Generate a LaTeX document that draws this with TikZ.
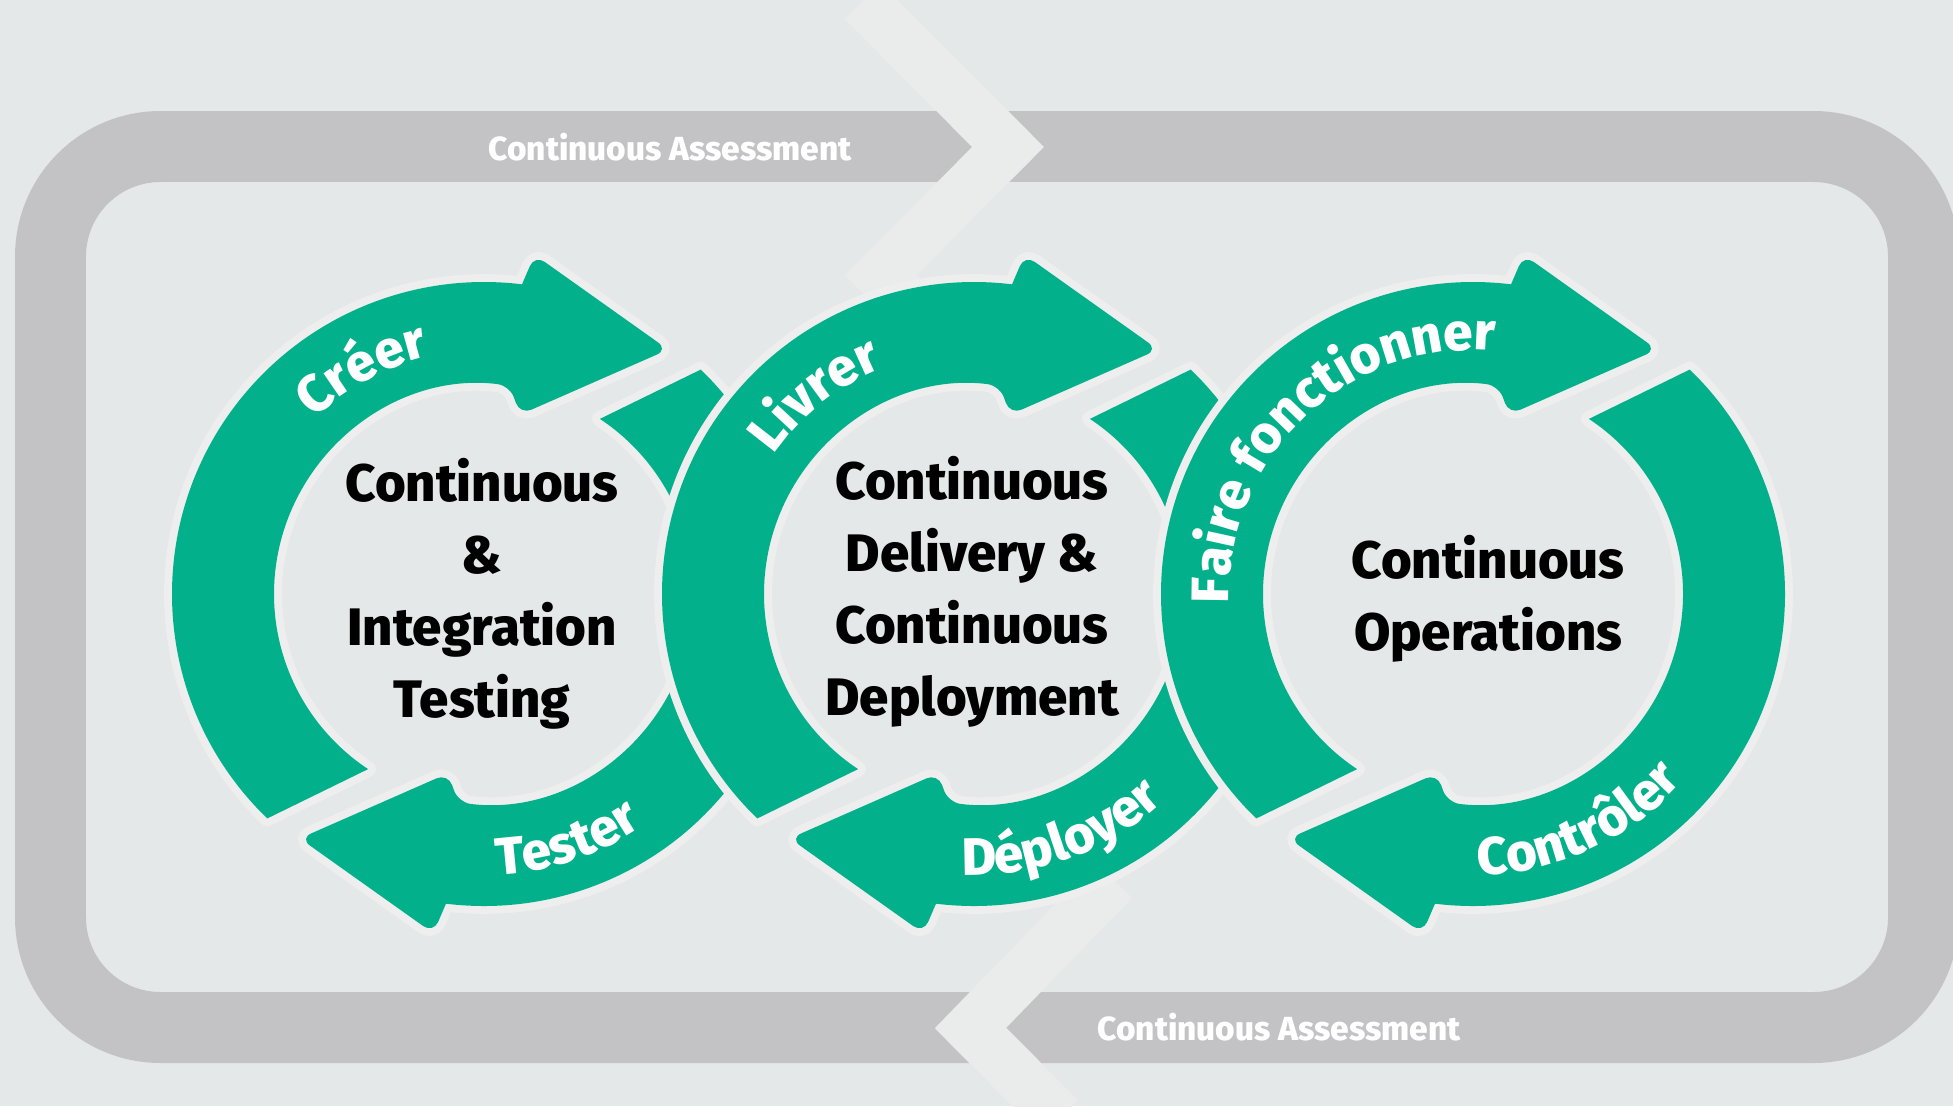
\documentclass[tikz,border=0pt]{standalone}
\usepackage{fontspec}
\setmainfont{Fira Sans}[BoldFont={Fira Sans ExtraBold}]
\usetikzlibrary{decorations.text}

\definecolor{backdrop}{RGB}{229,232,232}
\definecolor{loopgray}{RGB}{195,195,197}
\definecolor{zigzag}{RGB}{234,236,235}
\definecolor{halo}{RGB}{237,238,237}
\definecolor{cyclegreen}{RGB}{2,177,139}

\newcommand{\arcfont}{\bfseries\fontsize{30}{30}\selectfont}
\newcommand{\cyclearrow}[3]{%
  \path[arrowbody, shift={(#1,#2)}, rotate=#3]
    (134:312) arc[start angle=134, end angle=277, radius=312]
    [rounded corners=7pt] -- (278.5:343) -- (307:306) -- (281.4:183) -- (277:210)
    [sharp corners] arc[start angle=277, end angle=123.5, radius=210] -- cycle;}

\begin{document}
\begin{tikzpicture}[x=0.02cm, y=-0.02cm,
    loopband/.style={draw=loopgray, line width=40.4pt, rounded corners=62.6pt},
    zigzagline/.style={draw=zigzag, line width=29pt},
    hole/.style={fill=backdrop},
    arrowbody/.style={fill=cyclegreen, preaction={draw=halo, line width=9pt, line join=round}},
    bandlabel/.style={text=white, inner sep=0pt, font=\bfseries\fontsize{19}{19}\selectfont},
    hubtext/.style={align=center, inner sep=0pt, font=\bfseries\fontsize{30}{41}\selectfont},
    arctext/.style={decorate, decoration={text along path, text align=center, text color=white, text={#1}}}]
    \useasboundingbox (0,0) rectangle (1953,1106);
    \clip (0,0) rectangle (1953,1106);
    \fill[backdrop] (0,0) rectangle (1953,1106);

    \draw[loopband] (50.5,146.5) rectangle (1923.5,1027.5);
    \node[bandlabel] (assessTop) at (670,147) {Continuous Assessment};
    \node[bandlabel] (assessBottom) at (1279,1027) {Continuous Assessment};

    \draw[zigzagline] (863,1) -- (1008,147) -- (881,275) -- (960,354);
    \draw[zigzagline] (1114,880) -- (970.5,1028) -- (1060,1118);

    \fill[hole] (484,594) circle[radius=300];
    \cyclearrow{484}{594}{0}
    \cyclearrow{484}{594}{180}
    \path[arctext={|\arcfont|Créer}] (484,594) ++(191.5:244) arc[start angle=191.5, end angle=291.5, radius=244];
    \path[arctext={|\arcfont|Tester}] (484,594) ++(121.5:281) arc[start angle=121.5, end angle=21.5, radius=281];
    \node[hubtext] (hubIntegration) at (482,594) {Continuous\\\&\\Integration\\Testing};

    \fill[hole] (974,594) circle[radius=300];
    \cyclearrow{974}{594}{0}
    \cyclearrow{974}{594}{180}
    \path[arctext={|\arcfont|Livrer}] (974,594) ++(181.4:244) arc[start angle=181.4, end angle=281.4, radius=244];
    \path[arctext={|\arcfont|Déployer}] (974,594) ++(130:281) arc[start angle=130, end angle=10, radius=281];
    \node[hubtext] (hubDelivery) at (972,592) {Continuous\\Delivery \&\\Continuous\\Deployment};

    \fill[hole] (1473,594) circle[radius=300];
    \cyclearrow{1473}{594}{0}
    \cyclearrow{1473}{594}{180}
    \path[arctext={|\arcfont|Faire fonctionner}] (1473,594) ++(156.5:244) arc[start angle=156.5, end angle=296.5, radius=244];
    \path[arctext={|\arcfont|Contrôler}] (1473,594) ++(125.3:281) arc[start angle=125.3, end angle=5.3, radius=281];
    \node[hubtext] (hubOperations) at (1488,599) {Continuous\\Operations};
\end{tikzpicture}
\end{document}
